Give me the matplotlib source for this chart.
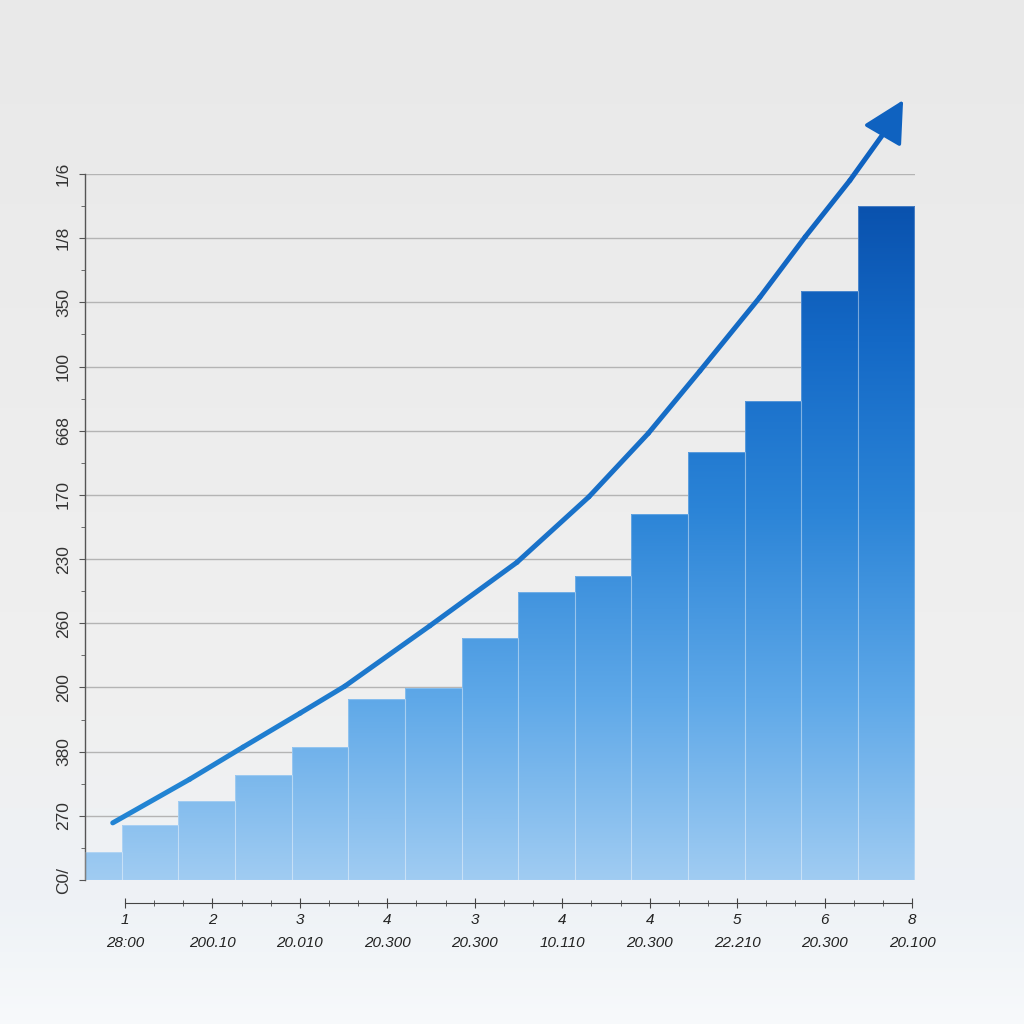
import numpy as np
import matplotlib.pyplot as plt
from matplotlib.colors import LinearSegmentedColormap
from matplotlib.collections import LineCollection

plt.rcParams['font.family'] = ['Liberation Sans', 'DejaVu Sans']

# bar heights, in gridline units
bar_values = [0.44, 0.86, 1.23, 1.64, 2.07, 2.82, 2.99, 3.77, 4.49, 4.74,
              5.70, 6.67, 7.46, 9.17, 10.50]
y_labels = ['C0/', '270', '380', '200', '260', '230', '170', '668', '100',
            '350', '1/8', '1/6']
x_top = ['1', '2', '3', '4', '3', '4', '4', '5', '6', '8']
x_bottom = ['28:00', '200.10', '20.010', '20.300', '20.300', '10.110',
            '20.300', '22.210', '20.300', '20.100']
# trend arrow
trend_x = [0.34, 1.70, 2.64, 3.65, 4.44, 5.94, 7.48, 8.75, 9.80, 10.71,
           11.77, 12.57, 13.36, 13.97]
trend_y = [0.89, 1.57, 2.07, 2.60, 3.02, 3.96, 4.95, 5.97, 6.96, 7.93,
           9.08, 10.02, 10.90, 11.65]
arrow_tip = (14.30, 12.15)

W = 1024.0
fig = plt.figure(figsize=(10.24, 10.24), dpi=100)

# background
bg = fig.add_axes([0, 0, 1, 1], zorder=-10)
g = np.linspace(0, 1, 256).reshape(-1, 1)
bg_cmap = LinearSegmentedColormap.from_list(
    'bg', [(0, '#f7f9fb'), (0.12, '#eef2f6'), (0.3, '#f0f0f0'), (1, '#e9e9e9')])
bg.imshow(g, aspect='auto', cmap=bg_cmap, origin='lower', extent=[0, 1, 0, 1])
bg.set_axis_off()

ax = fig.add_axes([85 / W, 1 - 880 / W, 830 / W, 706 / W])
ax.patch.set_alpha(0)

n = len(bar_values)
xs = np.arange(n)
xlim = (-0.15, 14.51)
ylim = (0, 11)

bar_cmap = LinearSegmentedColormap.from_list(
    'bars', [(0, '#a0ccf2'), (0.27, '#5ea8e8'), (0.55, '#2b84d7'),
             (0.8, '#1469c6'), (1, '#0a52ae')])
bars = ax.bar(xs, bar_values, width=1.0, facecolor='none',
              edgecolor=(1, 1, 1, 0.25), linewidth=0.8, zorder=3)
grad = np.linspace(0, 1, 256).reshape(-1, 1)
for i, b in enumerate(bars):
    # first bar is cut by the y axis
    left = max(xs[i] - 0.5, xlim[0])
    b.set_x(left)
    b.set_width(xs[i] + 0.5 - left)
    im = ax.imshow(grad, extent=[left, xs[i] + 0.5, 0, 10.5],
                   origin='lower', aspect='auto', cmap=bar_cmap, zorder=2)
    im.set_clip_path(b)

ax.set_xlim(*xlim)
ax.set_ylim(*ylim)

# grid
for yv in range(1, 12):
    ax.axhline(yv, color='#b4b4b4', lw=1.0, zorder=1)

# trend line, lighter at the start and darker towards the arrow
pts = np.column_stack([trend_x, trend_y])
segs = np.stack([pts[:-1], pts[1:]], axis=1)
line_cmap = LinearSegmentedColormap.from_list('ln', ['#2284d3', '#1a72c9', '#0f62c0'])
lc = LineCollection(segs, colors=line_cmap(np.linspace(0, 1, len(segs))),
                    linewidths=3.6, capstyle='round', joinstyle='round',
                    zorder=5, clip_on=False)
ax.add_collection(lc)
ax.annotate('', xy=arrow_tip, xytext=(trend_x[-1], trend_y[-1]),
            arrowprops=dict(arrowstyle='-|>,head_length=0.65,head_width=0.34',
                            mutation_scale=40, lw=2.5,
                            color='#0f62c0', shrinkA=0, shrinkB=0),
            annotation_clip=False, zorder=6)

for s in ['top', 'right', 'bottom']:
    ax.spines[s].set_visible(False)
ax.spines['left'].set_color('#555555')
ax.spines['left'].set_linewidth(1.0)
ax.set_xticks([])
ax.set_yticks(range(12))
ax.set_yticklabels(y_labels, rotation=90, va='center', fontsize=12.5,
                   color='#333333')
ax.set_yticks(np.arange(0.5, 11, 1), minor=True)
ax.tick_params(axis='y', which='major', length=4, color='#555555', pad=6)
ax.tick_params(axis='y', which='minor', length=3, color='#555555')

# separate bottom axis
ax2 = fig.add_axes([125 / W, 1 - 903 / W, 787 / W, 0.0001])
ax2.patch.set_alpha(0)
for s in ['top', 'right', 'left']:
    ax2.spines[s].set_visible(False)
ax2.spines['bottom'].set_color('#444444')
ax2.set_yticks([])
ax2.set_xlim(0, 9)
ax2.set_xticks(range(10))
ax2.set_xticklabels([a + '\n' + b for a, b in zip(x_top, x_bottom)],
                    fontsize=11, style='italic', color='#222222',
                    linespacing=1.75)
ax2.set_xticks([i + f for i in range(9) for f in (1 / 3, 2 / 3)], minor=True)
ax2.tick_params(axis='x', which='major', direction='inout', length=7,
                color='#444444', pad=4)
ax2.tick_params(axis='x', which='minor', direction='inout', length=4,
                color='#444444')

fig.savefig('out.png', dpi=100)
